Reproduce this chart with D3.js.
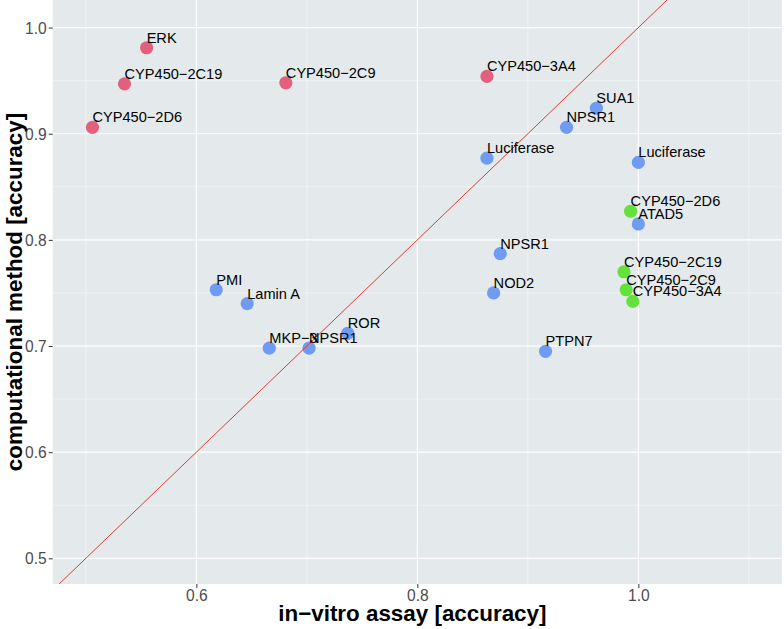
<!DOCTYPE html>
<html>
<head>
<meta charset="utf-8">
<script src="https://cdn.jsdelivr.net/npm/d3@7"></script>
<style>
  html, body { margin: 0; padding: 0; background: #ffffff; }
  svg { display: block; }
</style>
</head>
<body>
<svg id="chart" width="784" height="629"></svg>
<script>
// ---- data ----
const labels = ["ERK", "CYP450−2C19", "CYP450−2D6", "CYP450−2C9", "CYP450−3A4",
  "CYP450−2D6", "CYP450−2C19", "CYP450−2C9", "CYP450−3A4",
  "Luciferase", "SUA1", "NPSR1", "Luciferase", "ATAD5", "NPSR1", "NOD2",
  "PTPN7", "ROR", "NPSR1", "MKP−3", "PMI", "Lamin A"];
const invitro = [0.555, 0.535, 0.506, 0.681, 0.863,
  0.993, 0.987, 0.989, 0.995,
  0.863, 0.962, 0.935, 1.000, 1.000, 0.875, 0.869,
  0.916, 0.737, 0.702, 0.666, 0.618, 0.646];
const computational = [0.981, 0.947, 0.906, 0.948, 0.954,
  0.827, 0.770, 0.753, 0.742,
  0.877, 0.924, 0.906, 0.873, 0.815, 0.787, 0.750,
  0.695, 0.712, 0.698, 0.698, 0.753, 0.740];
const groups = ["red", "red", "red", "red", "red",
  "green", "green", "green", "green",
  "blue", "blue", "blue", "blue", "blue", "blue", "blue",
  "blue", "blue", "blue", "blue", "blue", "blue"];
const xTicks = [0.6, 0.8, 1.0];
const xMinor = [0.5, 0.7, 0.9, 1.1];
const yTicks = [0.5, 0.6, 0.7, 0.8, 0.9, 1.0];
const yMinor = [0.55, 0.65, 0.75, 0.85, 0.95];
const xTitle = "in−vitro assay [accuracy]";
const yTitle = "computational method [accuracy]";

const groupColors = { red: "#e2607e", green: "#62e23a", blue: "#6f9bf2" };
const drawOrder = ["red", "green", "blue"];

// ---- layout ----
const svg = d3.select("#chart");
const panel = { left: 52.7, right: 782, top: 0, bottom: 584 };
const x = d3.scaleLinear().domain([0.47, 1.13]).range([panel.left, panel.right]);
const y = d3.scaleLinear().domain([0.4758, 1.026]).range([panel.bottom, panel.top]);

svg.append("defs").append("clipPath").attr("id", "clip")
  .append("rect").attr("x", panel.left).attr("y", panel.top)
  .attr("width", panel.right - panel.left).attr("height", panel.bottom - panel.top);

svg.append("rect")
  .attr("x", panel.left).attr("y", panel.top)
  .attr("width", panel.right - panel.left).attr("height", panel.bottom - panel.top)
  .attr("fill", "#e4eaeb");

const grid = svg.append("g");
grid.selectAll(".xm").data(xMinor).join("line")
  .attr("x1", d => x(d)).attr("x2", d => x(d))
  .attr("y1", panel.top).attr("y2", panel.bottom)
  .attr("stroke", "#f3f6f6").attr("stroke-width", 0.6);
grid.selectAll(".ym").data(yMinor).join("line")
  .attr("y1", d => y(d)).attr("y2", d => y(d))
  .attr("x1", panel.left).attr("x2", panel.right)
  .attr("stroke", "#f3f6f6").attr("stroke-width", 0.6);
grid.selectAll(".xM").data(xTicks).join("line")
  .attr("x1", d => x(d)).attr("x2", d => x(d))
  .attr("y1", panel.top).attr("y2", panel.bottom)
  .attr("stroke", "#ffffff").attr("stroke-width", 1.2);
grid.selectAll(".yM").data(yTicks).join("line")
  .attr("y1", d => y(d)).attr("y2", d => y(d))
  .attr("x1", panel.left).attr("x2", panel.right)
  .attr("stroke", "#ffffff").attr("stroke-width", 1.2);

// axes
const fmt = d3.format(".1f");
const xAxis = svg.append("g")
  .attr("transform", `translate(0,${panel.bottom})`)
  .call(d3.axisBottom(x).tickValues(xTicks).tickFormat(fmt).tickSize(4).tickPadding(2));
const yAxis = svg.append("g")
  .attr("transform", `translate(${panel.left},0)`)
  .call(d3.axisLeft(y).tickValues(yTicks).tickFormat(fmt).tickSize(4).tickPadding(2));
[xAxis, yAxis].forEach(a => {
  a.select(".domain").remove();
  a.selectAll(".tick line").attr("stroke", "#333333").attr("stroke-width", 1);
  a.selectAll(".tick text")
    .attr("fill", "#4d4d4d")
    .style("font-family", "'Liberation Sans', Arial, sans-serif")
    .style("font-size", "15.6px");
});
xAxis.selectAll(".tick text").attr("dy", "0.71em");
yAxis.selectAll(".tick text").attr("dy", "0.35em");

// points
const data = labels.map((l, i) => ({ label: l, x: invitro[i], y: computational[i], g: groups[i] }));
const sorted = drawOrder.flatMap(g => data.filter(d => d.g === g));
svg.append("g").attr("clip-path", "url(#clip)")
  .selectAll("circle").data(sorted).join("circle")
  .attr("cx", d => x(d.x)).attr("cy", d => y(d.y)).attr("r", 6.6)
  .attr("fill", d => groupColors[d.g]);

// identity line
const lineDomain = [0.4, 1.2];
svg.append("line").attr("clip-path", "url(#clip)")
  .attr("x1", x(lineDomain[0])).attr("y1", y(lineDomain[0]))
  .attr("x2", x(lineDomain[1])).attr("y2", y(lineDomain[1]))
  .attr("stroke", "#dd3b3b").attr("stroke-width", 1);

// labels
svg.append("g").selectAll("text").data(data).join("text")
  .attr("x", d => x(d.x)).attr("y", d => y(d.y) - 5)
  .attr("fill", "#000000")
  .style("font-family", "'Liberation Sans', Arial, sans-serif")
  .style("font-size", "14.6px")
  .text(d => d.label);

// titles
svg.append("text")
  .attr("x", (panel.left + panel.right) / 2 - 5).attr("y", 621)
  .attr("text-anchor", "middle")
  .style("font-family", "'Liberation Sans', Arial, sans-serif")
  .style("font-size", "22.4px").style("font-weight", "bold")
  .attr("fill", "#000")
  .text(xTitle);
svg.append("text")
  .attr("transform", `translate(22,${(panel.top + panel.bottom) / 2}) rotate(-90)`)
  .attr("text-anchor", "middle")
  .style("font-family", "'Liberation Sans', Arial, sans-serif")
  .style("font-size", "22.4px").style("font-weight", "bold")
  .attr("fill", "#000")
  .text(yTitle);
</script>
</body>
</html>
